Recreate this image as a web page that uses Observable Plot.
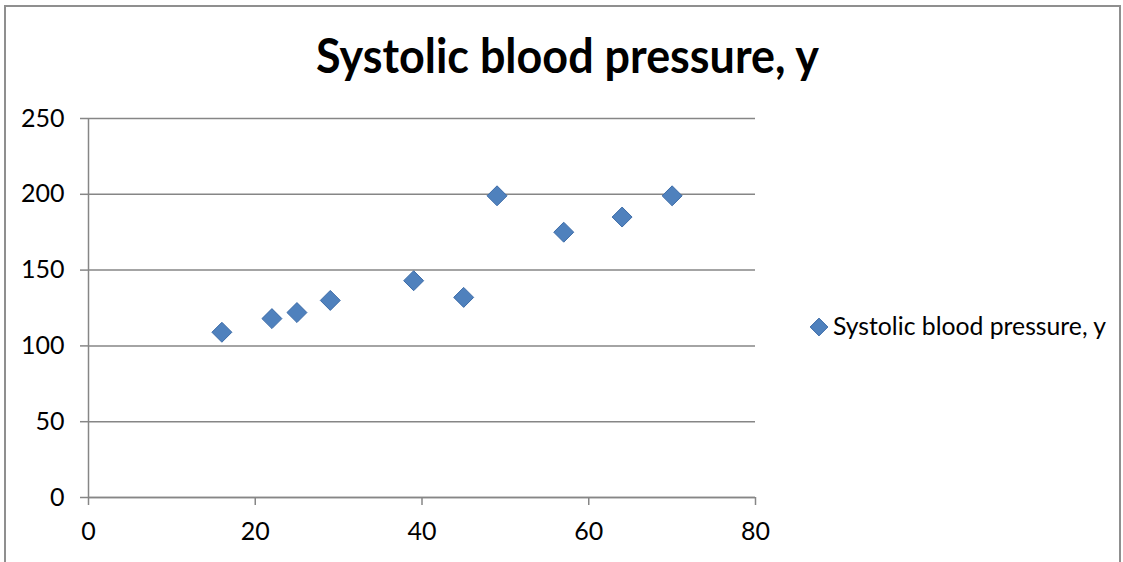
<!DOCTYPE html>
<html>
<head>
<meta charset="utf-8">
<script src="https://cdn.jsdelivr.net/npm/d3@7"></script>
<script src="https://cdn.jsdelivr.net/npm/@observablehq/plot@0.6"></script>
<style>
  body { margin: 0; background: #fff; }
  #wrap { position: relative; width: 1123px; height: 562px; overflow: hidden; font-family: Lato, "Open Sans", sans-serif; }
  #frame { position: absolute; left: 4px; top: 5px; width: 1117px; height: 700px; border: 2px solid #8f8f8f; box-sizing: border-box; }
  #chart { position: absolute; left: 0; top: 0; }
  #overlay { position: absolute; left: 0; top: 0; pointer-events: none; }
</style>
</head>
<body>
<div id="wrap">
  <div id="frame"></div>
  <div id="chart"></div>
  <svg id="overlay" width="1123" height="562"></svg>
</div>
<script>
const titleText = "Systolic blood pressure, y";
const seriesName = "Systolic blood pressure, y";
const ages = [16, 22, 25, 29, 39, 45, 49, 57, 64, 70];
const pressure = [109, 118, 122, 130, 143, 132, 199, 175, 185, 199];
const xTicks = [0, 20, 40, 60, 80];
const yTicks = [0, 50, 100, 150, 200, 250];

const data = ages.map((a, i) => ({x: a, y: pressure[i]}));
const gray = "#868686";
const fillBlue = "#4F81BD";
const strokeBlue = "#3D6CA8";

const chart = Plot.plot({
  width: 1123,
  height: 562,
  marginLeft: 88,
  marginRight: 368,
  marginTop: 118,
  marginBottom: 65,
  style: { fontFamily: "Lato, 'Open Sans', sans-serif", fontSize: "25px", color: "#000", background: "transparent", overflow: "visible" },
  x: { domain: [0, 80] },
  y: { domain: [0, 250] },
  marks: [
    Plot.gridY(yTicks, { stroke: gray, strokeOpacity: 1, strokeWidth: 1.5 }),
    Plot.ruleX([0], { stroke: gray, strokeWidth: 1.5 }),
    Plot.ruleY([0], { stroke: gray, strokeWidth: 1.5 }),
    Plot.axisY(yTicks, { tickSize: 8, tickPadding: 16, stroke: gray, strokeWidth: 1.5, fill: "#000", label: null }),
    Plot.axisX(xTicks, { tickSize: 8, tickPadding: 17, stroke: gray, strokeWidth: 1.5, fill: "#000", label: null }),
    Plot.dot(data, { x: "x", y: "y", symbol: "diamond2", r: 9, fill: fillBlue, stroke: strokeBlue, strokeWidth: 1 })
  ]
});
document.getElementById("chart").appendChild(chart);

// Title and legend overlay
const ov = d3.select("#overlay");
ov.append("text")
  .attr("x", 316).attr("y", 73)
  .attr("font-family", "Lato, 'Open Sans', sans-serif")
  .attr("font-weight", "bold")
  .attr("font-size", 47)
  .attr("textLength", 503)
  .attr("lengthAdjust", "spacingAndGlyphs")
  .text(titleText);

const lg = ov.append("g");
lg.append("path")
  .attr("transform", "translate(819,327)")
  .attr("d", d3.symbol(d3.symbolDiamond2, Math.PI * 8 * 8)())
  .attr("fill", fillBlue).attr("stroke", strokeBlue);
lg.append("text")
  .attr("x", 833).attr("y", 335)
  .attr("font-family", "Lato, 'Open Sans', sans-serif")
  .attr("font-size", 25)
  .attr("textLength", 273)
  .attr("lengthAdjust", "spacingAndGlyphs")
  .text(seriesName);
</script>
</body>
</html>
